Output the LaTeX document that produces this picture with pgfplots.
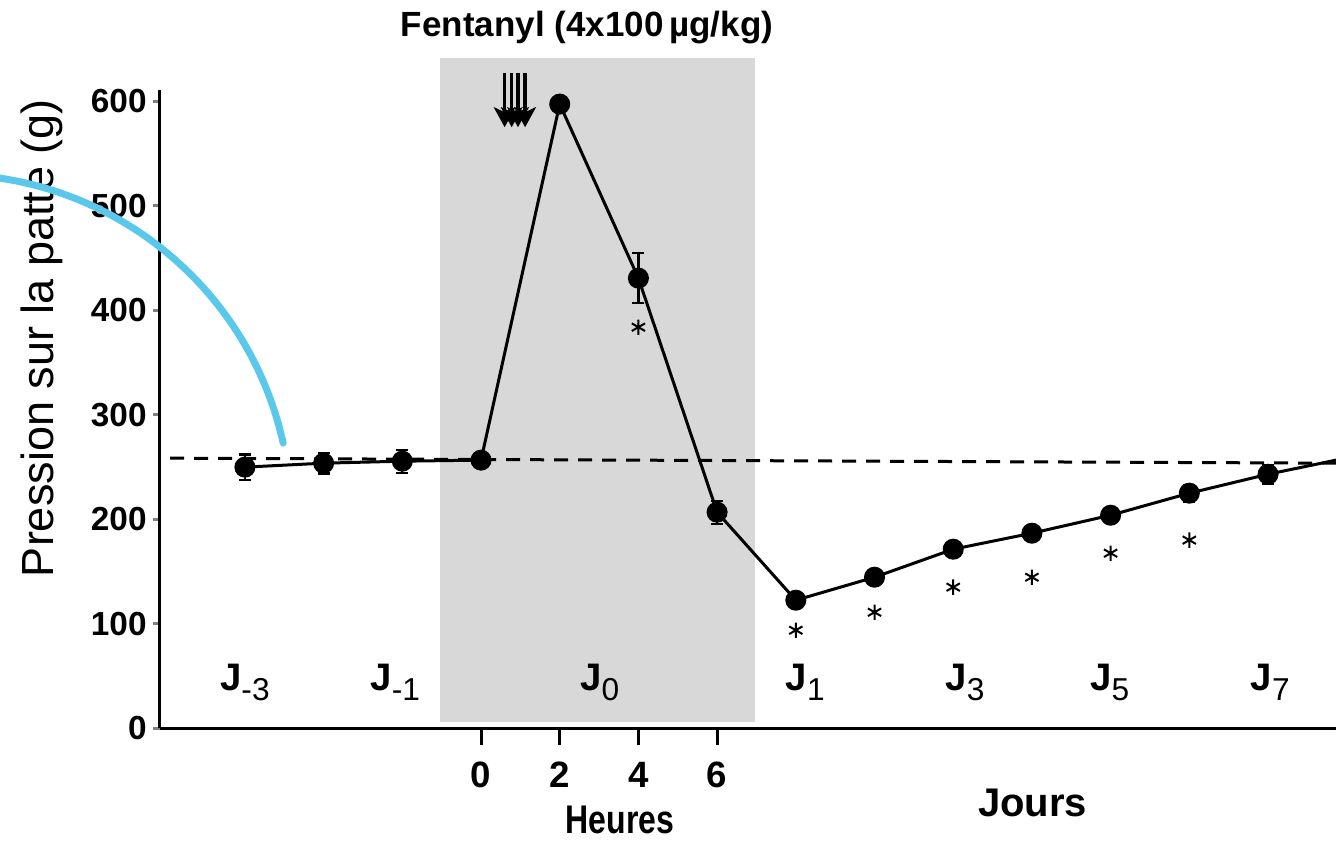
\documentclass[border=0pt]{standalone}
\usepackage{fontspec}
\setmainfont{Liberation Sans}
\usepackage{pgfplots}
\usepackage{pgfplotstable}
\pgfplotsset{compat=1.18}
\usetikzlibrary{arrows.meta}

\definecolor{daygrey}{RGB}{216,216,216}
\definecolor{arcblue}{RGB}{90,200,235}
\newcommand\fs[1]{\fontsize{#1}{#1}\selectfont}
\newcommand\J[1]{\textbf{J}\raisebox{-3pt}{\fs{9.5}\mdseries #1}}

% x: step index (0..3 = 0,2,4,6 h; 4..10 = days), y: g
\pgfplotstableread{
x y e
-3 249.8 12
-2 253.6 10
-1 255.5 11
0 256.5 0
1 597.1 0
2 430.6 24
3 206.7 11
4 122.5 0
5 144.5 0
6 171.3 0
7 186.6 0
8 203.8 0
9 224.9 8
10 243.0 9
}\pressure

\begin{document}
\begin{tikzpicture}
\begin{axis}[
  scale only axis,
  width=352.8pt, height=191.6pt,
  xmin=-4.079, xmax=10.864,
  ymin=0, ymax=611,
  axis lines*=left,
  axis line style={line width=0.9pt},
  clip=false,
  xtick={0,1,2,3}, xticklabels={0,2,4,6},
  xtick style={draw=none},
  xticklabel style={anchor=center, yshift=-12pt, font=\fs{11}\bfseries},
  ytick={0,100,...,600},
  tick align=outside,
  major tick length=2pt,
  ytick style={line width=0.9pt},
  yticklabel style={xshift=1.5pt, font=\fs{10}\bfseries},
  /pgf/number format/assume math mode=true,
]
% shaded day 0
\fill[daygrey] (axis cs:-0.521,5.7) rectangle (axis cs:3.48,641);

% baseline
\addplot[black, line width=0.9pt, dash pattern=on 4.2pt off 3pt, no marks]
  coordinates {(-3.95,258.4)(10.864,253.6)};

% mean values
\addplot[black, line width=0.9pt, mark=*, mark size=2.7pt,
  error bars/.cd, y dir=both, y explicit,
  error bar style={line width=0.7pt},
  error mark options={rotate=90, mark size=1.8pt, line width=0.7pt}]
  table[x=x, y=y, y error=e]{\pressure};
\addplot[black, line width=0.9pt, no marks] coordinates {(10,243.0)(10.864,256.5)};

% significance
\addplot[only marks, mark=asterisk, mark size=2.3pt, line width=0.6pt]
  coordinates {(2,383.7)(4,93.8)(5,111)(6,135)(7,144.5)(8,167.5)(9,180)};

% hour ticks
\draw[line width=0.9pt] (axis cs:0,0) -- ([yshift=-5pt]axis cs:0,0);
\draw[line width=0.9pt] (axis cs:1,0) -- ([yshift=-5pt]axis cs:1,0);
\draw[line width=0.9pt] (axis cs:2,0) -- ([yshift=-5pt]axis cs:2,0);
\draw[line width=0.9pt] (axis cs:3,0) -- ([yshift=-5pt]axis cs:3,0);

% injections
\draw[line width=1pt, -{Stealth[length=6pt,width=6.5pt,inset=1.5pt]}] (axis cs:0.30,627) -- (axis cs:0.30,575);
\draw[line width=1pt, -{Stealth[length=6pt,width=6.5pt,inset=1.5pt]}] (axis cs:0.39,627) -- (axis cs:0.39,575);
\draw[line width=1pt, -{Stealth[length=6pt,width=6.5pt,inset=1.5pt]}] (axis cs:0.47,627) -- (axis cs:0.47,575);
\draw[line width=1pt, -{Stealth[length=6pt,width=6.5pt,inset=1.5pt]}] (axis cs:0.56,627) -- (axis cs:0.56,575);

% day labels
\node[anchor=base, font=\fs{11.5}] at (axis cs:-3.0,36.4) {\J{-3}};
\node[anchor=base, font=\fs{11.5}] at (axis cs:-1.09,36.4) {\J{-1}};
\node[anchor=base, font=\fs{11.5}] at (axis cs:1.51,36.4) {\J{0}};
\node[anchor=base, font=\fs{11.5}] at (axis cs:4.12,36.4) {\J{1}};
\node[anchor=base, font=\fs{11.5}] at (axis cs:6.15,36.4) {\J{3}};
\node[anchor=base, font=\fs{11.5}] at (axis cs:7.99,36.4) {\J{5}};
\node[anchor=base, font=\fs{11.5}] at (axis cs:10.03,36.4) {\J{7}};

% titles
\node[font=\fs{10.5}\bfseries] at (axis cs:1.347,669.9) {Fentanyl (4x100\,µg/kg)};
\node[font=\fs{12}\bfseries, xscale=0.8] at (axis cs:1.766,-88) {Heures};
\node[font=\fs{12}\bfseries] at (axis cs:7.01,-71.8) {Jours};
\node[font=\fs{13.5}, rotate=90] at (axis cs:-5.58,373.2) {Pression sur la patte (g)};

% annotation arc
\draw[arcblue, line width=2.1pt, line cap=round] (axis cs:-6.112,526.3)
  arc[start angle=81.4, end angle=12.4, radius=102.7pt];

\coordinate (bl) at (axis cs:-6.112,-107.2);
\coordinate (tr) at (axis cs:10.864,696.7);
\end{axis}
\pgfresetboundingbox
\useasboundingbox (bl) rectangle (tr);
\end{tikzpicture}
\end{document}
